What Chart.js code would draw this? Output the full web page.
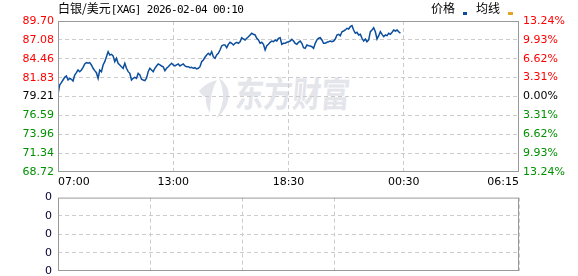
<!DOCTYPE html>
<html><head><meta charset="utf-8">
<script src="https://cdn.jsdelivr.net/npm/chart.js@4.4.1/dist/chart.umd.min.js"></script>
<style>
html,body{margin:0;padding:0;background:#fff;width:578px;height:276px;overflow:hidden;}
#wrap{position:relative;width:578px;height:276px;overflow:hidden;}
canvas{position:absolute;left:0;}
.t{position:absolute;white-space:nowrap;color:#000;}
.cjk{font-family:"Noto Sans CJK SC";font-size:12px;}
.mono{font-family:"DejaVu Sans Mono";font-size:11px;letter-spacing:-0.6px;}
#wmtext{position:absolute;left:237px;top:74px;font-family:"Noto Sans CJK SC";font-weight:bold;font-size:35px;line-height:35px;color:#e4e5ea;transform-origin:0 0;transform:scaleX(0.82) skewX(-6deg);white-space:nowrap;}
#wmicon{position:absolute;left:196px;top:76px;}
.mk{position:absolute;width:4px;height:3px;}
</style></head>
<body><div id="wrap">
<svg id="wmicon" width="40" height="45" viewBox="0 0 40 45">
  <path d="M3,15 Q11,6 21,4 Q16,13 15,23 Q14,30 14,37 Q9,29 10,21 Q6,20 3,15 Z" fill="#e4e5ea"/>
  <path d="M23,2 Q37,12 31,28 Q28,36 20,43 Q28,29 27,18 Q26,9 23,2 Z" fill="#e4e5ea"/>
</svg>
<div id="wmtext">东方财富</div>
<canvas id="main" width="578" height="195" style="top:0;width:578px;height:195px"></canvas>
<canvas id="vol" width="578" height="100" style="top:185px;width:578px;height:100px"></canvas>
<div class="t" id="title" style="left:58px;top:0px;line-height:16px"><span class="cjk" id="titleName"></span><span class="mono" id="titleInfo"></span></div>
<div class="t cjk" id="lg1" style="left:431px;top:0px;line-height:16px"></div>
<div class="mk" style="left:463px;top:12px;background:#0b4e9e"></div>
<div class="t cjk" id="lg2" style="left:476px;top:0px;line-height:16px"></div>
<div class="mk" style="left:508px;top:12px;width:5px;background:#e0a526"></div>
</div>
<script>
// ---- data ----
const titleName = '白银/美元';
const titleInfo = '[XAG] 2026-02-04 00:10';
const legendLabels = ['价格', '均线'];
const prevClose = 79.21;
const slotCount = 276;                       // 5-minute slots across the session
const timeTickSlots = [0, 69, 138, 207, 276];
const timeTickLabels = ['07:00', '13:00', '18:30', '00:30', '06:15'];
const priceTicks = [89.70, 87.08, 84.46, 81.83, 79.21, 76.59, 73.96, 71.34, 68.72];
const pctTicks = [13.24, 9.93, 6.62, 3.31, 0.00, -3.31, -6.62, -9.93, -13.24];
const volumeTickLabels = ['0', '0', '0', '0', '0'];
const volumeValues = [];
const avgValues = [];
const priceValues = [
79.55,80.81,81.13,81.50,81.88,82.06,81.50,81.74,81.60,81.36,
82.20,82.52,82.89,82.66,82.89,83.27,83.73,83.91,83.82,83.91,
83.59,83.13,82.80,82.52,81.74,82.89,82.66,83.59,84.05,84.74,
85.43,84.98,85.07,84.84,84.05,84.52,83.82,83.59,83.35,83.13,
83.82,83.13,82.66,82.43,81.50,81.74,81.88,81.74,82.43,82.20,
81.60,81.50,
81.41,81.74,82.66,83.13,82.89,82.66,83.13,83.45,83.73,83.59,
83.45,83.35,82.80,83.13,83.35,83.59,83.82,83.59,83.45,83.59,
83.73,83.45,83.59,83.73,83.45,83.35,83.35,83.21,83.27,83.13,
83.21,83.03,83.13,83.35,84.05,84.28,84.66,84.98,85.21,84.98,
85.43,84.74,84.52,84.98,85.21,85.67,86.23,86.37,
86.37,85.99,86.46,86.74,86.60,86.37,86.60,86.74,86.60,86.82,
87.38,87.20,87.06,87.30,87.52,87.76,87.99,87.85,87.76,87.30,
87.06,86.60,86.74,86.46,85.67,86.27,86.46,86.74,86.92,86.82,
87.06,86.92,87.30,87.38,86.46,86.60,86.60,86.74,86.82,86.92,
87.16,86.92,86.60,86.46,86.74,86.92,86.60,85.99,85.91,86.37,
86.27,86.23,
86.13,85.91,86.60,87.06,87.30,87.38,87.06,86.60,86.60,86.74,
86.82,86.92,86.82,86.92,87.20,87.76,87.85,87.66,88.21,88.31,
88.45,88.69,88.59,88.91,89.05,88.45,87.99,88.13,87.76,87.85,
87.30,86.92,87.20,86.82,87.06,88.21,88.45,88.77,88.21,87.20,
87.66,88.21,87.85,87.52,87.76,87.66,87.99,87.85,88.13,88.45,
88.31,88.45,88.21,87.99
];

// ---- text ----
document.getElementById('titleName').textContent = titleName;
document.getElementById('titleInfo').textContent = titleInfo;
document.getElementById('lg1').textContent = legendLabels[0];
document.getElementById('lg2').textContent = legendLabels[1];

// ---- charts ----
const RED = '#ff0000', GREEN = '#009000', BLACK = '#000000';
const GRID = '#cccccc', BORDER = '#999999';
const tickFont = { family: 'DejaVu Sans', size: 11 };

const boxPlugin = {
  id: 'box',
  afterDraw(chart) {
    const { ctx, chartArea: a } = chart;
    ctx.save();
    ctx.strokeStyle = BORDER;
    ctx.lineWidth = 1;
    ctx.strokeRect(a.left + 0.5, a.top + 0.5, a.right - a.left - 1, a.bottom - a.top - 1);
    ctx.restore();
  }
};

const innerGrid = (n) => (c) => (c.index === 0 || c.index === n - 1) ? 'rgba(0,0,0,0)' : GRID;

const xScale = (showLabels) => ({
  type: 'linear', min: 0, max: slotCount,
  afterBuildTicks: s => { s.ticks = timeTickSlots.map(v => ({ value: v })); },
  ticks: {
    display: showLabels,
    callback: (v) => timeTickLabels[timeTickSlots.indexOf(v)],
    align: 'inner', maxRotation: 0, autoSkip: false, padding: 4,
    font: tickFont, color: BLACK
  },
  grid: { color: innerGrid(timeTickSlots.length), drawTicks: false, lineWidth: 1 },
  border: { display: false, dash: [4, 3] },
  afterFit: s => { s.height = showLabels ? 23 : 0; }
});

new Chart(document.getElementById('main'), {
  type: 'line',
  data: {
    datasets: [
      { data: priceValues.map((v, i) => ({ x: i, y: v })), borderColor: '#0b4e9e', borderWidth: 1.5,
        pointRadius: 0, tension: 0, yAxisID: 'y', fill: false },
      { data: avgValues.map((v, i) => ({ x: i, y: v })), borderColor: '#e0a526', borderWidth: 1,
        pointRadius: 0, yAxisID: 'y', fill: false }
    ]
  },
  options: {
    responsive: false, animation: false, events: [], devicePixelRatio: 1,
    layout: { padding: { top: 21, left: 0, right: 0, bottom: 0 } },
    plugins: { legend: { display: false }, tooltip: { enabled: false }, title: { display: false } },
    scales: {
      x: xScale(true),
      y: {
        position: 'left', min: priceTicks[priceTicks.length - 1], max: priceTicks[0],
        afterBuildTicks: s => { s.ticks = priceTicks.slice().sort((a, b) => a - b).map(v => ({ value: v })); },
        ticks: {
          autoSkip: false, padding: 4, font: tickFont,
          callback: v => v.toFixed(2),
          color: c => c.tick.value > prevClose + 1e-6 ? RED : (c.tick.value < prevClose - 1e-6 ? GREEN : BLACK)
        },
        grid: { color: innerGrid(priceTicks.length), drawTicks: false },
        border: { display: false, dash: [4, 3] },
        afterFit: s => { s.width = 58; }
      },
      y2: {
        position: 'right', min: pctTicks[pctTicks.length - 1], max: pctTicks[0],
        afterBuildTicks: s => { s.ticks = pctTicks.slice().sort((a, b) => a - b).map(v => ({ value: v })); },
        ticks: {
          autoSkip: false, padding: 4, font: tickFont,
          callback: v => Math.abs(v).toFixed(2) + '%',
          color: c => c.tick.value > 1e-6 ? RED : (c.tick.value < -1e-6 ? GREEN : BLACK)
        },
        grid: { display: false, drawTicks: false },
        border: { display: false },
        afterFit: s => { s.width = 59; }
      }
    }
  },
  plugins: [boxPlugin]
});

new Chart(document.getElementById('vol'), {
  type: 'bar',
  data: { datasets: [{ data: volumeValues.map((v, i) => ({ x: i, y: v })), backgroundColor: '#0b4e9e' }] },
  options: {
    responsive: false, animation: false, events: [], devicePixelRatio: 1,
    layout: { padding: { top: 11, left: 0, right: 59, bottom: 14 } },
    plugins: { legend: { display: false }, tooltip: { enabled: false } },
    scales: {
      x: xScale(false),
      y: {
        position: 'left', min: 0, max: volumeTickLabels.length - 1,
        afterBuildTicks: s => { s.ticks = volumeTickLabels.map((t, i) => ({ value: i })); },
        ticks: { autoSkip: false, padding: 6, font: tickFont, color: '#000033',
          callback: (v, i) => volumeTickLabels[i] },
        grid: { color: innerGrid(volumeTickLabels.length), drawTicks: false },
        border: { display: false, dash: [4, 3] },
        afterFit: s => { s.width = 58; }
      }
    }
  },
  plugins: [boxPlugin]
});
</script>
</body></html>
